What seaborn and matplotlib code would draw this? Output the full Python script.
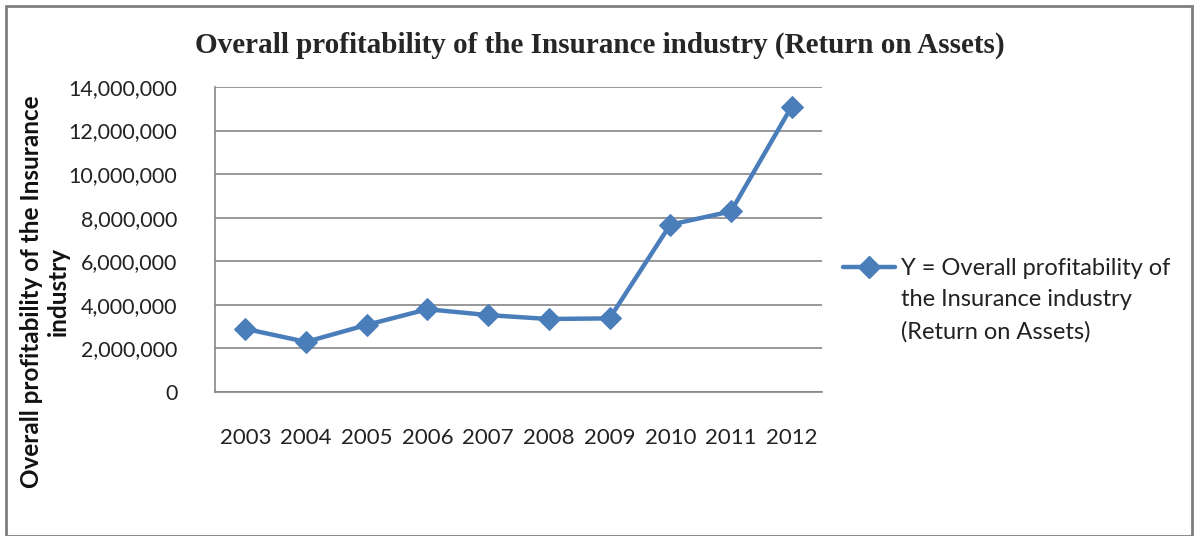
import matplotlib
matplotlib.use("Agg")
import matplotlib.pyplot as plt
import seaborn as sns
import pandas as pd
from matplotlib.lines import Line2D
from matplotlib.patches import Rectangle
from matplotlib.ticker import FuncFormatter, FixedLocator

years = ["2003", "2004", "2005", "2006", "2007", "2008", "2009", "2010", "2011", "2012"]
roa = [2900000, 2300000, 3080000, 3800000, 3530000, 3350000, 3380000, 7680000, 8290000, 13100000]

df = pd.DataFrame({"pos": range(len(years)), "year": years, "roa": roa})

sns.set_style("white")
plt.rcParams["font.family"] = ["Lato", "DejaVu Sans"]

blue = "#4A7EBB"
grid_col = "#868686"
txt_col = "#222222"

fig = plt.figure(figsize=(11.99, 5.36), dpi=100)
ax = fig.add_axes([215 / 1199, 1 - 392 / 536, (822 - 215) / 1199, (392 - 87) / 536])

sns.lineplot(data=df, x="pos", y="roa", ax=ax, color=blue, linewidth=3.2,
             marker="D", markersize=11, markeredgecolor=blue, legend=False)

ax.set_xlim(-0.5, len(years) - 0.5)
ax.set_ylim(0, 14000000)
ax.set_yticks(range(0, 14000001, 2000000))
ax.yaxis.set_major_formatter(FuncFormatter(lambda v, p: f"{int(v):,}"))
ax.yaxis.grid(True, color=grid_col, linewidth=1.2)
ax.set_axisbelow(True)

ax.xaxis.set_major_locator(FixedLocator([i - 0.5 for i in range(len(years) + 1)]))
ax.xaxis.set_minor_locator(FixedLocator(list(range(len(years)))))
ax.set_xticklabels([], minor=False)
ax.set_xticklabels(years, minor=True)
ax.tick_params(axis="x", which="major", length=7, width=1, color=grid_col, direction="out")
ax.tick_params(axis="x", which="minor", length=0, pad=26, labelsize=16, labelcolor=txt_col)
ax.tick_params(axis="y", length=7, width=1, color=grid_col, direction="out", labelsize=15.5,
               labelcolor=txt_col, pad=20)

for side in ["top", "right"]:
    ax.spines[side].set_visible(False)
for side in ["left", "bottom"]:
    ax.spines[side].set_color(grid_col)
    ax.spines[side].set_linewidth(1.2)

ax.set_xlabel("")
ax.set_ylabel("")

# legend: marker beside the first line only, the label wraps below it
handles = [Line2D([], [], color=blue, linewidth=3.2, marker="D", markersize=11),
           Line2D([], [], color="none"),
           Line2D([], [], color="none")]
labels = ["Y = Overall profitability of", "the Insurance industry", "(Return on Assets)"]
ax.legend(handles, labels, loc="upper left", bbox_to_anchor=(1.035, 0.44), frameon=False,
          fontsize=17, handlelength=2.2, handletextpad=0.25, labelcolor=txt_col,
          labelspacing=0.45, borderaxespad=0, borderpad=0)

fig.text(0.5, 1 - 45 / 536, "Overall profitability of the Insurance industry (Return on Assets)",
         ha="center", va="center", fontsize=21, fontweight="bold",
         family=["Liberation Serif", "DejaVu Serif"])

fig.text(45 / 1199, 1 - 292 / 536, "Overall profitability of the Insurance\nindustry",
         rotation=90, ha="center", va="center", multialignment="center",
         fontsize=17.5, fontweight="bold", color="#111111", linespacing=1.2)

fig.patches.append(Rectangle((6 / 1199, 0), 1186 / 1199, 1 - 6 / 536, transform=fig.transFigure,
                             fill=False, edgecolor="#7f7f7f", linewidth=2))

fig.savefig("out.png", dpi=100)
